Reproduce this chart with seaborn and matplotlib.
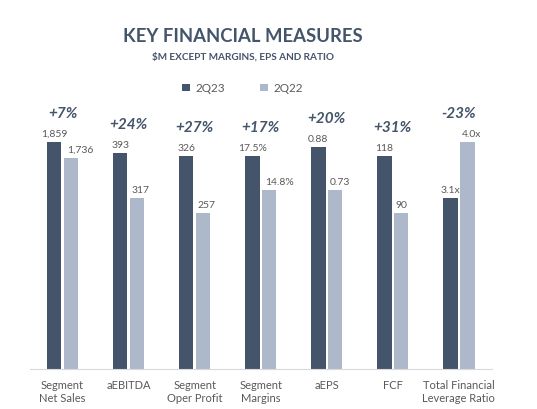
"""
Key financial measures, 2Q23 vs 2Q22 (each metric drawn on its own scale)
"""
import pandas as pd
import matplotlib
matplotlib.use("Agg")
import matplotlib.pyplot as plt
import seaborn as sns

# metric names and quarter names
categories = ["Segment\nNet Sales", "aEBITDA", "Segment\nOper Profit", "Segment\nMargins",
              "aEPS", "FCF", "Total Financial\nLeverage Ratio"]
quarters = ["2Q23", "2Q22"]

# printed values
labels_2q23 = ["1,859", "393", "326", "17.5%", "0.88", "118", "3.1x"]
labels_2q22 = ["1,736", "317", "257", "14.8%", "0.73", "90", "4.0x"]
changes = ["+7%", "+24%", "+27%", "+17%", "+20%", "+31%", "-23%"]

# bar heights as drawn in the slide (each metric has its own scale)
height_2q23 = [227, 216, 213, 213, 222, 213, 171]
height_2q22 = [211, 171, 156, 179, 179, 156, 227]

DARK = "#44546A"
LIGHT = "#ADB9CA"
TEXT = "#595959"

df = pd.DataFrame({
    "metric": categories * 2,
    "quarter": [quarters[0]] * len(categories) + [quarters[1]] * len(categories),
    "height": height_2q23 + height_2q22,
})

sns.set_style("white")
plt.rcParams["font.family"] = ["Lato", "DejaVu Sans"]

fig = plt.figure(figsize=(5.37, 4.10), dpi=100)
ax = fig.add_axes([0.055, 0.0976, 0.861, 0.6585])

sns.barplot(data=df, x="metric", y="height", hue="quarter", hue_order=quarters,
            order=categories, palette=[DARK, LIGHT], saturation=1, width=0.51,
            gap=0.14, linewidth=0, ax=ax, legend=True)

ax.set_ylim(0, 270)
ax.set_xlim(-0.5, len(categories) - 0.5)
ax.set_xlabel("")
ax.set_ylabel("")
ax.set_yticks([])
ax.tick_params(axis="x", length=0, labelsize=8, labelcolor=TEXT, pad=7)
for s in ["top", "right", "left"]:
    ax.spines[s].set_visible(False)
ax.spines["bottom"].set_color("#D9D9D9")

# value labels above each bar
dark_bars, light_bars = ax.containers[0], ax.containers[1]
ax.bar_label(dark_bars, labels=labels_2q23, padding=3, fontsize=7.5, color=TEXT)
light_txt = ax.bar_label(light_bars, labels=labels_2q22, padding=3, fontsize=7.5, color=TEXT)

# nudge a 2Q22 label right when it would run over the 2Q23 bar
fig.canvas.draw()
renderer = fig.canvas.get_renderer()
for t, dbar in zip(light_txt, dark_bars.patches):
    bb = t.get_window_extent(renderer)
    dark_right = ax.transData.transform((dbar.get_x() + dbar.get_width(), 0))[0]
    overlap = dark_right + 3 - bb.x0
    if overlap > 0:
        t.set_position((overlap, t.get_position()[1]))

# change labels above each group
for i, ch in enumerate(changes):
    top = max(height_2q23[i], height_2q22[i])
    ax.text(i, top + 29, ch, ha="center", va="center", fontsize=11,
            fontweight="bold", fontstyle="italic", color=DARK, zorder=10)

# legend
handles, _ = ax.get_legend_handles_labels()
ax.get_legend().remove()
fig.legend(handles, quarters, loc="center", bbox_to_anchor=(0.452, 0.783), ncol=2,
           frameon=False, fontsize=8.5, labelcolor=TEXT, handlelength=0.6,
           handleheight=0.6, handletextpad=0.5, columnspacing=3.0)

fig.text(0.452, 0.91, "KEY FINANCIAL MEASURES", ha="center", va="center",
         fontsize=13.3, fontweight="bold", color=DARK)
fig.text(0.452, 0.861, "$M EXCEPT MARGINS, EPS AND RATIO", ha="center", va="center",
         fontsize=7.2, fontweight="bold", color=DARK)

fig.savefig("out.png", dpi=100, facecolor="white")
